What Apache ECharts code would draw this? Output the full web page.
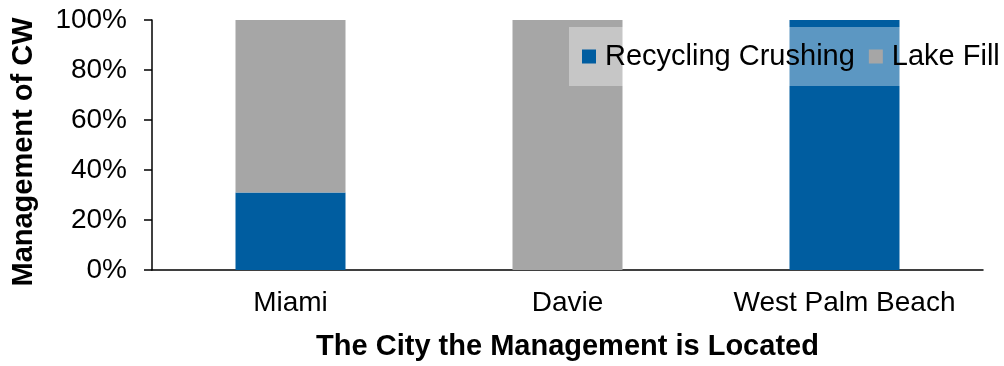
<!DOCTYPE html>
<html>
<head>
<meta charset="utf-8">
<script src="https://cdn.jsdelivr.net/npm/echarts@6/dist/echarts.min.js"></script>
<style>
  html, body { margin: 0; padding: 0; background: #ffffff; }
  #chart { width: 1004px; height: 366px; }
</style>
</head>
<body>
<div id="chart"></div>
<script>
// Share of construction waste handled by each method, per city (%)
const cities = ['Miami', 'Davie', 'West Palm Beach'];
const recyclingCrushing = [31, 0, 100];
const lakeFill = [69, 100, 0];
const seriesNames = ['Recycling Crushing', 'Lake Fill'];
const yTicks = [0, 20, 40, 60, 80, 100];

const FONT = '"Liberation Sans", Arial, sans-serif';
const BLUE = '#005da0';
const GREY = '#a6a6a6';

const chart = echarts.init(document.getElementById('chart'), null, { renderer: 'canvas' });

chart.setOption({
  animation: false,
  textStyle: { fontFamily: FONT },
  grid: { left: 152, right: 21, top: 20, bottom: 93, containLabel: false },
  legend: {
    orient: 'horizontal',
    left: 569,
    top: 27,
    width: 600,
    padding: [15, 30, 15, 13],
    backgroundColor: 'rgba(255,255,255,0.36)',
    itemWidth: 14,
    itemHeight: 14,
    itemGap: 14,
    icon: 'rect',
    data: seriesNames,
    textStyle: { fontFamily: FONT, fontSize: 29, color: '#000', padding: [0, 0, 0, 4] }
  },
  xAxis: {
    type: 'category',
    data: cities,
    name: 'The City the Management is Located',
    nameLocation: 'middle',
    nameGap: 62,
    nameTextStyle: { fontFamily: FONT, fontSize: 29, fontWeight: 'bold', color: '#000' },
    axisLine: { lineStyle: { color: '#000', width: 1.5 } },
    axisTick: { show: false },
    axisLabel: { interval: 0, fontFamily: FONT, fontSize: 28, color: '#000', margin: 19 }
  },
  yAxis: {
    type: 'value',
    min: yTicks[0],
    max: yTicks[yTicks.length - 1],
    interval: yTicks[1] - yTicks[0],
    name: 'Management of CW',
    nameLocation: 'middle',
    nameGap: 114,
    nameTextStyle: { fontFamily: FONT, fontSize: 29, fontWeight: 'bold', color: '#000', padding: [0, 14, 0, 0] },
    axisLine: { show: true, lineStyle: { color: '#000', width: 1.5 } },
    axisTick: { show: true, inside: false, length: 8, lineStyle: { color: '#000', width: 1.5 } },
    splitLine: { show: false },
    axisLabel: { fontFamily: FONT, fontSize: 28, color: '#000', margin: 25, formatter: '{value}%' }
  },
  series: [
    {
      name: seriesNames[0],
      type: 'bar',
      stack: 'share',
      data: recyclingCrushing,
      barWidth: 110,
      itemStyle: { color: BLUE }
    },
    {
      name: seriesNames[1],
      type: 'bar',
      stack: 'share',
      data: lakeFill,
      barWidth: 110,
      itemStyle: { color: GREY }
    }
  ]
});
</script>
</body>
</html>
